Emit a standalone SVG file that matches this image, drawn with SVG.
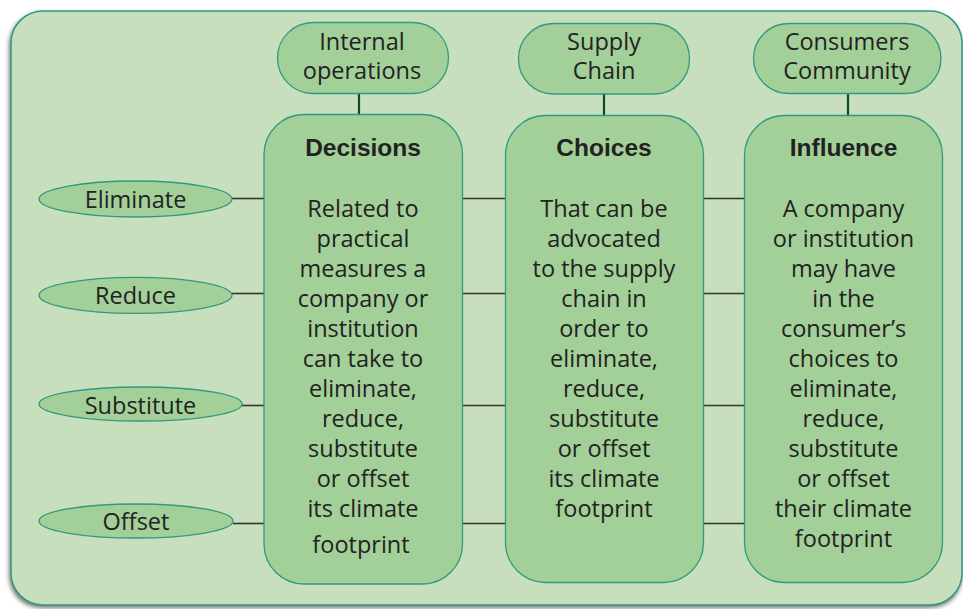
<svg xmlns="http://www.w3.org/2000/svg" width="963" height="609" viewBox="0 0 963 609">
<defs>
<filter id="sh" x="-5%" y="-5%" width="110%" height="110%"><feGaussianBlur stdDeviation="2"/></filter>
</defs>
<style>
.node{fill:#a3cf99;stroke:#2e9a7f;stroke-width:1.3}
.t{font-family:"Open Sans","Liberation Sans",sans-serif;font-size:23.5px;fill:#222;text-anchor:middle}
.b{font-family:"Liberation Sans",Arial,sans-serif;font-size:24.5px;font-weight:bold;fill:#222;text-anchor:middle}
.h{stroke:#333;stroke-width:1.6;fill:none}
.v{stroke:#0b4d1e;stroke-width:2.2;fill:none}
</style>
<rect width="963" height="609" fill="#ffffff"/>
<g id="frame">
<rect x="9" y="13" width="953" height="595" rx="32" fill="#777" filter="url(#sh)"/>
<rect x="11" y="11" width="951" height="594" rx="32" fill="#c8dfbd" stroke="#2e9a7f" stroke-width="1.5"/>
</g>
<g id="connectors">
<line class="v" x1="359" y1="93" x2="359" y2="115"/>
<line class="v" x1="604" y1="94" x2="604" y2="116"/>
<line class="v" x1="848" y1="93" x2="848" y2="116"/>
<line class="h" x1="232" y1="198.5" x2="264" y2="198.5"/>
<line class="h" x1="232" y1="293.5" x2="264" y2="293.5"/>
<line class="h" x1="242" y1="405.5" x2="264" y2="405.5"/>
<line class="h" x1="233" y1="523.5" x2="264" y2="523.5"/>
<line class="h" x1="462" y1="198.5" x2="505" y2="198.5"/>
<line class="h" x1="462" y1="293.5" x2="505" y2="293.5"/>
<line class="h" x1="462" y1="405.5" x2="505" y2="405.5"/>
<line class="h" x1="462" y1="523.5" x2="505" y2="523.5"/>
<line class="h" x1="703" y1="198.5" x2="744" y2="198.5"/>
<line class="h" x1="703" y1="293.5" x2="744" y2="293.5"/>
<line class="h" x1="703" y1="405.5" x2="744" y2="405.5"/>
<line class="h" x1="703" y1="523.5" x2="744" y2="523.5"/>
</g>
<g id="internal-operations">
<rect class="node" x="277.5" y="22.5" width="171" height="71" rx="35.5"/>
<text class="t" x="362" y="49.5">Internal</text>
<text class="t" x="362" y="78.5">operations</text>
</g>
<g id="supply-chain">
<rect class="node" x="518.5" y="23.5" width="171" height="70.5" rx="35"/>
<text class="t" x="604" y="50">Supply</text>
<text class="t" x="604" y="79">Chain</text>
</g>
<g id="consumers-community">
<rect class="node" x="753.5" y="23.5" width="187.5" height="70" rx="35"/>
<text class="t" x="847" y="50">Consumers</text>
<text class="t" x="847" y="79">Community</text>
</g>
<g id="eliminate">
<ellipse class="node" cx="135.5" cy="199" rx="96.5" ry="18"/>
<text class="t" x="135.5" y="207.5">Eliminate</text>
</g>
<g id="reduce">
<ellipse class="node" cx="135.5" cy="295.3" rx="96.5" ry="18"/>
<text class="t" x="135.5" y="303.5">Reduce</text>
</g>
<g id="substitute">
<ellipse class="node" cx="140.5" cy="404" rx="101.5" ry="17"/>
<text class="t" x="140.5" y="414">Substitute</text>
</g>
<g id="offset">
<ellipse class="node" cx="136" cy="521" rx="97" ry="17"/>
<text class="t" x="136" y="530">Offset</text>
</g>
<g id="decisions">
<rect class="node" x="264" y="114.5" width="198.5" height="469.5" rx="40"/>
<text class="b" x="363" y="156">Decisions</text>
<text class="t" x="363" y="216.7">Related to</text>
<text class="t" x="363" y="246.7">practical</text>
<text class="t" x="363" y="276.7">measures a</text>
<text class="t" x="363" y="306.7">company or</text>
<text class="t" x="363" y="336.7">institution</text>
<text class="t" x="363" y="366.7">can take to</text>
<text class="t" x="363" y="396.7">eliminate,</text>
<text class="t" x="363" y="426.7">reduce,</text>
<text class="t" x="363" y="456.7">substitute</text>
<text class="t" x="363" y="486.7">or offset</text>
<text class="t" x="363" y="516.7">its climate</text>
<text class="t" x="361" y="553">footprint</text>
</g>
<g id="choices">
<rect class="node" x="505.5" y="115.5" width="198" height="467" rx="40"/>
<text class="b" x="604" y="156">Choices</text>
<text class="t" x="604" y="216.7">That can be</text>
<text class="t" x="604" y="246.7">advocated</text>
<text class="t" x="604" y="276.7">to the supply</text>
<text class="t" x="604" y="306.7">chain in</text>
<text class="t" x="604" y="336.7">order to</text>
<text class="t" x="604" y="366.7">eliminate,</text>
<text class="t" x="604" y="396.7">reduce,</text>
<text class="t" x="604" y="426.7">substitute</text>
<text class="t" x="604" y="456.7">or offset</text>
<text class="t" x="604" y="486.7">its climate</text>
<text class="t" x="604" y="516.7">footprint</text>
</g>
<g id="influence">
<rect class="node" x="744.5" y="115.5" width="198" height="467" rx="40"/>
<text class="b" x="843.5" y="156">Influence</text>
<text class="t" x="843.5" y="216.7">A company</text>
<text class="t" x="843.5" y="246.7">or institution</text>
<text class="t" x="843.5" y="276.7">may have</text>
<text class="t" x="843.5" y="306.7">in the</text>
<text class="t" x="843.5" y="336.7">consumer’s</text>
<text class="t" x="843.5" y="366.7">choices to</text>
<text class="t" x="843.5" y="396.7">eliminate,</text>
<text class="t" x="843.5" y="426.7">reduce,</text>
<text class="t" x="843.5" y="456.7">substitute</text>
<text class="t" x="843.5" y="486.7">or offset</text>
<text class="t" x="843.5" y="516.7">their climate</text>
<text class="t" x="843.5" y="546.7">footprint</text>
</g>
</svg>
